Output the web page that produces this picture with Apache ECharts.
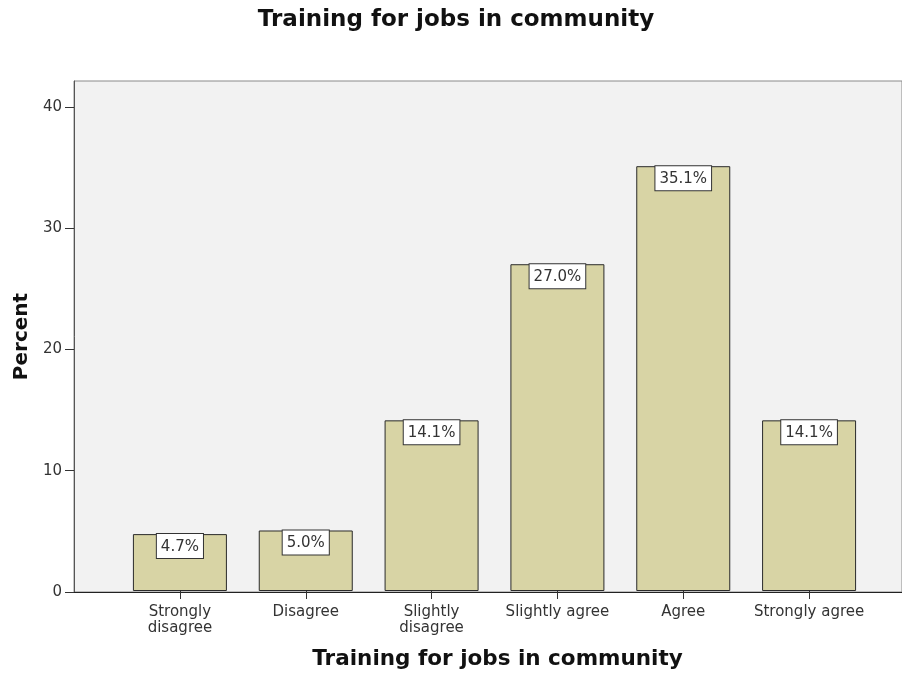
<!DOCTYPE html>
<html>
<head>
<meta charset="utf-8">
<script src="https://cdn.jsdelivr.net/npm/echarts@6/dist/echarts.min.js"></script>
<style>
  html, body { margin: 0; padding: 0; background: #ffffff; }
  #chart { width: 902px; height: 675px; }
</style>
</head>
<body>
<div id="chart"></div>
<script>
// Survey responses: "Training for jobs in community"
const categories = ['Strongly\ndisagree', 'Disagree', 'Slightly\ndisagree', 'Slightly agree', 'Agree', 'Strongly agree'];
const percents = [4.7, 5.0, 14.1, 27.0, 35.1, 14.1];
const yTicks = [0, 10, 20, 30, 40];

const Y_MAX = 42.14;
const FONT = '"DejaVu Sans", Verdana, sans-serif';

const chart = echarts.init(document.getElementById('chart'), null, { renderer: 'canvas' });

chart.setOption({
  backgroundColor: '#ffffff',
  animation: false,
  title: {
    text: 'Training for jobs in community',
    left: 451,
    textAlign: 'center',
    top: 4,
    textStyle: { fontFamily: FONT, fontSize: 23, fontWeight: 'bold', color: '#111' }
  },
  grid: [
    // plot panel with the value axis
    { left: 74, right: -13, top: 81, bottom: 83, show: true, backgroundColor: '#f2f2f2', borderColor: '#8a8a8a', borderWidth: 1 },
    // bar region (inset from the panel edges)
    { left: 117, right: 30, top: 81, bottom: 83 }
  ],
  xAxis: [
    {
      gridIndex: 0, type: 'value', min: 0, max: 1,
      axisLine: { show: true, lineStyle: { color: '#222', width: 1 } },
      axisTick: { show: false }, axisLabel: { show: false }, splitLine: { show: false }
    },
    {
      gridIndex: 1, type: 'category', data: categories,
      axisLine: { show: false },
      axisTick: { show: true, alignWithLabel: true, interval: 0, length: 8, lineStyle: { color: '#333', width: 1 } },
      axisLabel: { interval: 0, fontFamily: FONT, fontSize: 15, color: '#333', margin: 13, lineHeight: 16 },
      name: 'Training for jobs in community',
      nameLocation: 'middle',
      nameGap: 57,
      nameTextStyle: { fontFamily: FONT, fontSize: 21.5, fontWeight: 'bold', color: '#111', padding: [0, 0, 0, 6] }
    }
  ],
  yAxis: [
    {
      gridIndex: 0, type: 'value', min: 0, max: Y_MAX,
      axisLine: { show: true, lineStyle: { color: '#555', width: 1 } },
      axisTick: { show: true, length: 9, customValues: yTicks, lineStyle: { color: '#333', width: 1 } },
      axisLabel: { fontFamily: FONT, fontSize: 15, color: '#333', margin: 12, customValues: yTicks },
      splitLine: { show: false },
      name: 'Percent',
      nameLocation: 'middle',
      nameGap: 41,
      nameTextStyle: { fontFamily: FONT, fontSize: 20, fontWeight: 'bold', color: '#111' }
    },
    {
      gridIndex: 1, type: 'value', min: 0, max: Y_MAX, show: false
    }
  ],
  series: [
    {
      type: 'bar',
      xAxisIndex: 1,
      yAxisIndex: 1,
      data: percents,
      barWidth: 94,
      itemStyle: { color: '#d8d4a5', borderColor: '#2a2a2a', borderWidth: 1 },
      label: {
        show: true,
        position: 'insideTop',
        distance: 0,
        formatter: (p) => p.value.toFixed(1) + '%',
        fontFamily: FONT,
        fontSize: 15,
        color: '#333',
        backgroundColor: '#ffffff',
        borderColor: '#333',
        borderWidth: 1,
        padding: [5, 4, 4, 4]
      }
    }
  ]
});
</script>
</body>
</html>
